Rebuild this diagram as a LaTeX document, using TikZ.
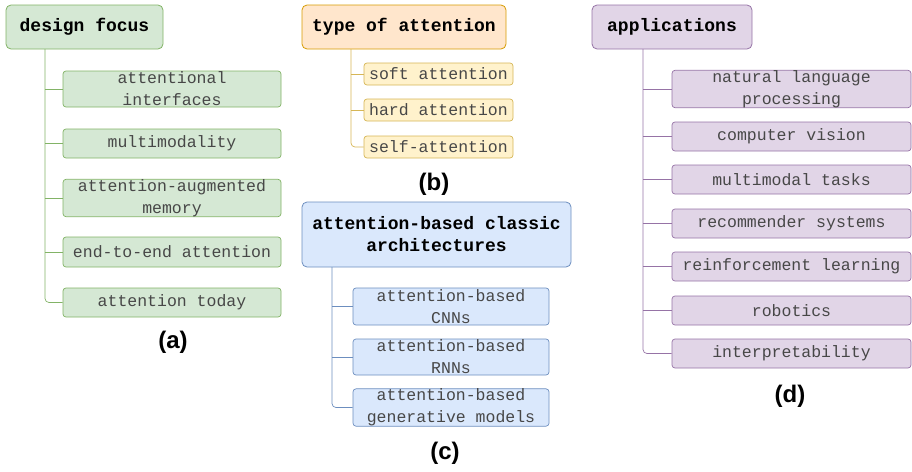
\documentclass[tikz,border=0pt]{standalone}
\usepackage{fontspec}
\newfontfamily\boxfont{Liberation Mono}
\newfontfamily\tagfont{Liberation Sans}
\usetikzlibrary{positioning}

\definecolor{gfill}{HTML}{D5E8D4}\definecolor{gline}{HTML}{82B366}
\definecolor{ofill}{HTML}{FFE6CC}\definecolor{oline}{HTML}{D79B00}
\definecolor{yfill}{HTML}{FFF2CC}\definecolor{yline}{HTML}{D6B656}
\definecolor{bfill}{HTML}{DAE8FC}\definecolor{bline}{HTML}{6C8EBF}
\definecolor{pfill}{HTML}{E1D5E7}\definecolor{pline}{HTML}{9673A6}

\tikzset{
    hdr/.style={draw, rounded corners=5pt, line width=0.8pt, align=center, inner sep=0pt,
        font=\boxfont\bfseries\fontsize{18}{22}\selectfont},
    leaf/.style={draw, rounded corners=3pt, line width=0.7pt, align=center, inner sep=0pt,
        text=black!72, font=\boxfont\fontsize{16.5}{22}\selectfont},
    tag/.style={font=\tagfont\bfseries\fontsize{24}{26}\selectfont},
    branch/.style={line width=0.7pt, rounded corners=4pt}
}

\begin{document}
\begin{tikzpicture}[x=1pt, y=-1pt]
            \useasboundingbox (0,0) rectangle (912,471);

            % (a) design focus
            \node[hdr, fill=gfill, draw=gline, minimum width=157, minimum height=44] (focus) at (84.5,27) {design focus};
            \node[leaf, fill=gfill, draw=gline, minimum width=218, minimum height=36] (a1) at (172,89) {attentional\\interfaces};
            \node[leaf, fill=gfill, draw=gline, minimum width=218, minimum height=29] (a2) at (172,143.5) {multimodality};
            \node[leaf, fill=gfill, draw=gline, minimum width=218, minimum height=36] (a3) at (172,198) {attention-augmented\\memory};
            \node[leaf, fill=gfill, draw=gline, minimum width=218, minimum height=30] (a4) at (172,252) {end-to-end attention};
            \node[leaf, fill=gfill, draw=gline, minimum width=218, minimum height=29] (a5) at (172,302.5) {attention today};
            \coordinate (ta) at (45,49);
            \foreach \c in {a1,a2,a3,a4}
                \draw[branch, gline] (ta |- \c.west) -- (\c.west);
            \draw[branch, gline] (ta) |- (a5.west);
            \node[tag] (taga) at (173,342) {(a)};

            % (b) type of attention
            \node[hdr, fill=ofill, draw=oline, minimum width=204, minimum height=44] (type) at (404,27) {type of attention};
            \node[leaf, fill=yfill, draw=yline, minimum width=149, minimum height=22] (b1) at (438.5,74) {soft attention};
            \node[leaf, fill=yfill, draw=yline, minimum width=149, minimum height=22] (b2) at (438.5,110) {hard attention};
            \node[leaf, fill=yfill, draw=yline, minimum width=149, minimum height=22] (b3) at (438.5,147) {self-attention};
            \coordinate (tb) at (351,49);
            \foreach \c in {b1,b2}
                \draw[branch, yline] (tb |- \c.west) -- (\c.west);
            \draw[branch, yline] (tb) |- (b3.west);
            \node[tag] (tagb) at (434,184) {(b)};

            % (c) classic architectures
            \node[hdr, fill=bfill, draw=bline, minimum width=269, minimum height=65] (arch) at (436.5,234.5) {attention-based classic\\architectures};
            \node[leaf, fill=bfill, draw=bline, minimum width=196, minimum height=37] (c1) at (451,306.5) {attention-based\\CNNs};
            \node[leaf, fill=bfill, draw=bline, minimum width=196, minimum height=36] (c2) at (451,357) {attention-based\\RNNs};
            \node[leaf, fill=bfill, draw=bline, minimum width=196, minimum height=37] (c3) at (451,407.5) {attention-based\\generative models};
            \coordinate (tc) at (332,267);
            \foreach \c in {c1,c2}
                \draw[branch, bline] (tc |- \c.west) -- (\c.west);
            \draw[branch, bline] (tc) |- (c3.west);
            \node[tag] (tagc) at (445,453) {(c)};

            % (d) applications
            \node[hdr, fill=pfill, draw=pline, minimum width=160, minimum height=44] (apps) at (672,27) {applications};
            \node[leaf, fill=pfill, draw=pline, minimum width=239, minimum height=37] (d1) at (791.5,89) {natural language\\processing};
            \node[leaf, fill=pfill, draw=pline, minimum width=239, minimum height=29] (d2) at (791.5,136.5) {computer vision};
            \node[leaf, fill=pfill, draw=pline, minimum width=239, minimum height=29] (d3) at (791.5,179.5) {multimodal tasks};
            \node[leaf, fill=pfill, draw=pline, minimum width=239, minimum height=29] (d4) at (791.5,223.5) {recommender systems};
            \node[leaf, fill=pfill, draw=pline, minimum width=239, minimum height=29] (d5) at (791.5,266.5) {reinforcement learning};
            \node[leaf, fill=pfill, draw=pline, minimum width=239, minimum height=29] (d6) at (791.5,310.5) {robotics};
            \node[leaf, fill=pfill, draw=pline, minimum width=239, minimum height=29] (d7) at (791.5,353.5) {interpretability};
            \coordinate (td) at (643,49);
            \foreach \c in {d1,d2,d3,d4,d5,d6}
                \draw[branch, pline] (td |- \c.west) -- (\c.west);
            \draw[branch, pline] (td) |- (d7.west);
            \node[tag] (tagd) at (790,396) {(d)};

        \end{tikzpicture}
\end{document}
